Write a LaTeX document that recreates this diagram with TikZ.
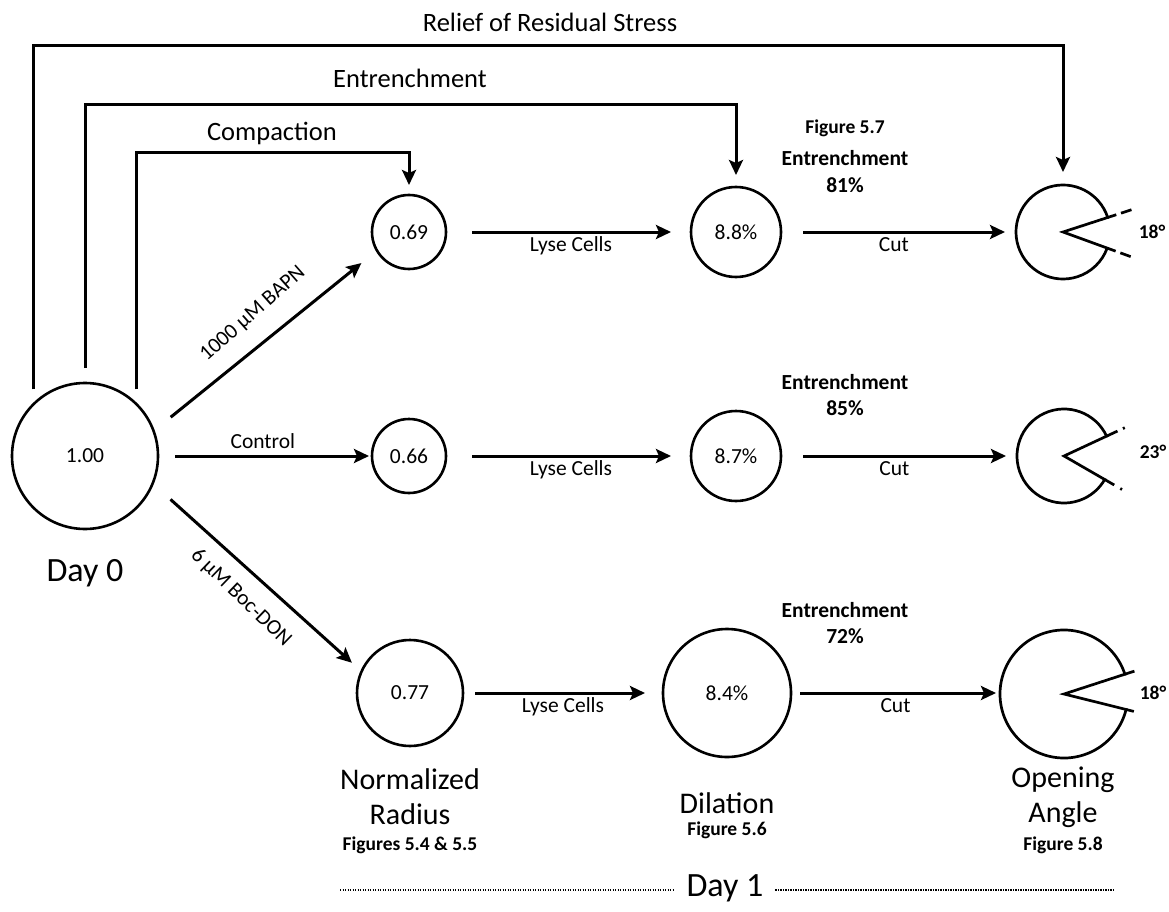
\documentclass[tikz,border=0pt]{standalone}
\usepackage{fontspec}
\setmainfont{Carlito}
\usetikzlibrary{arrows.meta,calc}
\begin{document}
\begin{tikzpicture}[x=1pt,y=-1pt,
  every node/.style={inner sep=0pt, outer sep=0pt},
  txt/.style={font=\fontsize{21.5}{26}\selectfont},
  btxt/.style={font=\bfseries\fontsize{21.5}{26}\selectfont, align=center},
  ftxt/.style={font=\bfseries\fontsize{19.5}{24}\selectfont, align=center},
  head/.style={font=\fontsize{26.5}{32}\selectfont},
  title/.style={font=\fontsize{30}{35}\selectfont, align=center},
  daylbl/.style={font=\fontsize{34}{40}\selectfont},
  bub/.style={circle, draw, line width=2.6pt, txt},
  pac/.style={circle, inner sep=0pt},
  arr/.style={line width=3pt, line join=miter, -{Stealth[length=15pt,width=14pt,inset=3pt]}},
  wedge/.style={line width=2.7pt, line join=miter},
  dots/.style={line width=1.3pt, dash pattern=on 1.2pt off 1.3pt}
]
\useasboundingbox (0,0) rectangle (1169,912);

% sample discs
\node[bub, minimum size=146pt] (d0) at (85,456) {1.00};
\node[bub, minimum size=74pt]  (b1) at (409,232) {0.69};
\node[bub, minimum size=74pt]  (b2) at (409,456) {0.66};
\node[bub, minimum size=106pt] (b3) at (410,693) {0.77};
\node[bub, minimum size=90pt]  (m1) at (736,232) {8.8\%};
\node[bub, minimum size=90pt]  (m2) at (736,456) {8.7\%};
\node[bub, minimum size=128pt] (m3) at (727,693) {8.4\%};

% opened rings after the cut
\node[pac, minimum size=94pt]  (e1) at (1063,232) {};
\node[pac, minimum size=94pt]  (e2) at (1064,456) {};
\node[pac, minimum size=128pt] (e3) at (1064,694) {};

\draw[wedge] (e1.center) -- ($(e1.center)+(18:47pt)$) arc[start angle=18, end angle=340, radius=47pt] -- cycle;
\draw[wedge] ($(e1.center)+(18:47pt)$) -- ($(e1.center)+(18:56pt)$);
\draw[wedge] ($(e1.center)+(18:61pt)$) -- ($(e1.center)+(18:72pt)$);
\draw[wedge] ($(e1.center)+(-20:47pt)$) -- ($(e1.center)+(-20:56pt)$);
\draw[wedge] ($(e1.center)+(-20:61pt)$) -- ($(e1.center)+(-20:72pt)$);

\draw[wedge] (e2.center) -- ($(e2.center)+(25:47pt)$) arc[start angle=25, end angle=330, radius=47pt] -- cycle;
\draw[wedge] ($(e2.center)+(25:47pt)$) -- ($(e2.center)+(25:59pt)$);
\draw[wedge] ($(e2.center)+(25:65pt)$) -- ($(e2.center)+(25:67pt)$);
\draw[wedge] ($(e2.center)+(-30:47pt)$) -- ($(e2.center)+(-30:58pt)$);
\draw[wedge] ($(e2.center)+(-30:65pt)$) -- ($(e2.center)+(-30:67pt)$);

\draw[wedge] (e3.center) -- ($(e3.center)+(18:64pt)$) arc[start angle=18, end angle=346, radius=64pt] -- cycle;
\draw[wedge] ($(e3.center)+(18:64pt)$) -- ($(e3.center)+(18:74pt)$);
\draw[wedge] ($(e3.center)+(-14:64pt)$) -- ($(e3.center)+(-14:72pt)$);

\node[ftxt] (a1) at (1152,232) {18°};
\node[ftxt] (a2) at (1153,452) {23°};
\node[ftxt] (a3) at (1153,693) {18°};

% treatments
\draw[arr, shorten <=22pt, shorten >=20pt] (d0.20) -- (b1.210);
\node[txt, rotate=41.5] (lb1) at (253,314) {1000 µM BAPN};
\draw[arr, shorten <=17pt, shorten >=3pt] (d0.east) -- node[txt, pos=.49, above=7pt] (lb2) {Control} (b2.west);
\draw[arr, shorten <=24pt, shorten >=13pt] (d0.-22) -- (b3.156);
\node[txt, rotate=-44] (lb3) at (241,598) {6 µM Boc-DON};

% lysis
\draw[arr, shorten <=26pt, shorten >=20pt] (b1.east) -- node[txt, pos=.51, below=5pt] (ly1) {Lyse Cells} (m1.west);
\draw[arr, shorten <=26pt, shorten >=20pt] (b2.east) -- node[txt, pos=.51, below=5pt] (ly2) {Lyse Cells} (m2.west);
\draw[arr, shorten <=12pt, shorten >=18pt] (b3.east) -- node[txt, pos=.5, below=5pt] (ly3) {Lyse Cells} (m3.west);

% cutting
\draw[arr, shorten <=22pt, shorten >=11pt] (m1.east) -- node[txt, pos=.48, below=6pt] (ct1) {Cut} (e1.west);
\draw[arr, shorten <=22pt, shorten >=11pt] (m2.east) -- node[txt, pos=.48, below=6pt] (ct2) {Cut} (e2.west);
\draw[arr, shorten <=9pt, shorten >=4pt] (m3.east) -- node[txt, pos=.5, below=6pt] (ct3) {Cut} (m3.east -| e3.west);

% overall comparisons from day 0
\coordinate (t1) at (0,46);
\coordinate (t2) at (0,105);
\coordinate (t3) at (0,153);
\draw[arr, shorten >=13pt] ([yshift=15pt]d0.135) |- (t1 -| e1.north) -- (e1.north);
\draw[arr, shorten >=12pt] ([yshift=15pt]d0.90) |- (t2 -| m1.north) -- (m1.north);
\draw[arr, shorten >=10pt] ([yshift=15pt]d0.45) |- (t3 -| b1.north) -- (b1.north);
\node[head] (h1) at (550,22) {Relief of Residual Stress};
\node[head] (h2) at (410,78) {Entrenchment};
\node[head] (h3) at (272,133) {Compaction};

% entrenchment values
\node[ftxt] (f57) at (845,128) {Figure 5.7};
\node[btxt] (en1) at (845,158) {Entrenchment};
\node[btxt] (pc1) at (845,185) {81\%};
\node[btxt] (en2) at (845,382) {Entrenchment};
\node[btxt] (pc2) at (845,408) {85\%};
\node[btxt] (en3) at (845,610) {Entrenchment};
\node[btxt] (pc3) at (845,636) {72\%};

% column titles
\node[daylbl] (day0) at (85,573) {Day 0};
\node[title] (tnr) at (410,797) {Normalized\\Radius};
\node[ftxt] (fnr) at (410,845) {Figures 5.4 \& 5.5};
\node[title] (tdl) at (727,803) {Dilation};
\node[ftxt] (fdl) at (727,830) {Figure 5.6};
\node[title] (toa) at (1063,797) {Opening\\Angle};
\node[ftxt] (foa) at (1063,845) {Figure 5.8};

% day 1 span
\node[daylbl] (day1) at (725,888) {Day 1};
\coordinate (dl) at (340,890);
\coordinate (dr) at (1115,890);
\draw[dots] (dl) -- ([xshift=-12pt]day1.west |- dl);
\draw[dots] ([xshift=12pt]day1.east |- dr) -- (dr);
\end{tikzpicture}
\end{document}
